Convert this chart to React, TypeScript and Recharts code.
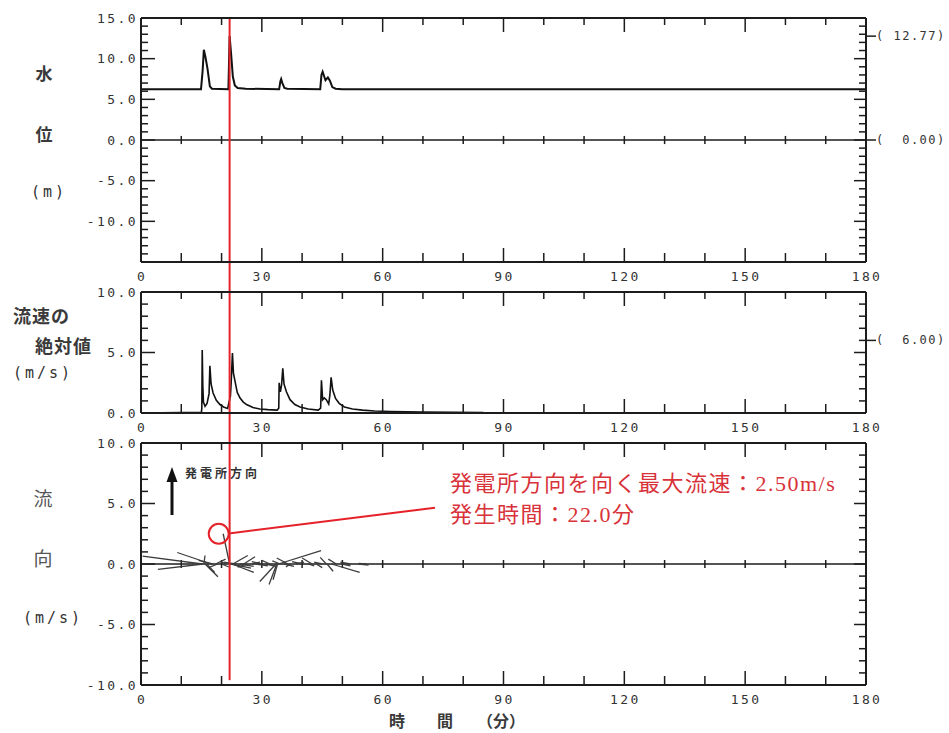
import {ReactNode} from "react";
import {ComposedChart, Line, XAxis, YAxis, ReferenceLine, ReferenceDot} from "recharts";

// time axis (minutes)
const timeTicks = [0, 10, 20, 30, 40, 50, 60, 70, 80, 90, 100, 110, 120, 130, 140, 150, 160, 170, 180];

// water level (m)
const levelTime = [0, 14.9, 15.3, 15.6, 16.0, 16.5, 17.1, 17.6, 21.7, 22.0, 22.4, 22.8, 23.3, 24.0, 26.0, 34.3, 34.6, 34.8, 35.1, 35.6, 36.3, 44.5, 44.8, 45.1, 45.8, 46.4, 46.9, 47.5, 48.3, 50.0, 180];
const levelValue = [6.25, 6.25, 8.5, 11.1, 10.2, 8.8, 6.6, 6.3, 6.25, 12.77, 10.4, 7.8, 6.7, 6.4, 6.3, 6.25, 7.2, 7.5, 7.0, 6.4, 6.3, 6.25, 8.0, 8.4, 7.35, 7.7, 7.3, 6.5, 6.3, 6.25, 6.25];
const levelMarks = [12.77, 0.0];

// absolute current speed (m/s)
const speedTime = [0, 15.0, 15.1, 15.2, 15.35, 15.5, 15.9, 16.4, 16.9, 17.1, 17.4, 17.9, 18.7, 19.6, 20.5, 21.5, 22.2, 22.4, 22.7, 22.95, 23.3, 23.9, 24.6, 25.4, 26.2, 27.8, 29.5, 31.5, 33.8, 34.2, 34.3, 34.6, 34.9, 35.2, 35.5, 36.1, 37.0, 38.2, 39.5, 41.5, 44.0, 44.6, 44.8, 45.1, 45.5, 46.0, 46.6, 46.9, 47.2, 47.6, 48.3, 49.2, 50.5, 52.5, 55.0, 58.0, 62.0, 70.0, 78.0, 85.0];
const speedValue = [0, 0.05, 0.4, 5.2, 2.2, 0.9, 0.55, 0.8, 1.6, 3.9, 2.4, 1.65, 1.05, 0.7, 0.5, 0.38, 1.4, 2.6, 4.95, 3.3, 2.7, 1.7, 1.24, 0.9, 0.7, 0.45, 0.33, 0.28, 0.24, 0.4, 2.5, 1.75, 2.3, 3.7, 2.4, 1.75, 1.1, 0.7, 0.5, 0.33, 0.24, 0.4, 2.7, 1.1, 1.25, 1.1, 0.75, 1.5, 2.95, 1.9, 1.2, 0.8, 0.5, 0.33, 0.24, 0.16, 0.12, 0.08, 0.06, 0.03];
const speedMarks = [6.0];

// current direction sticks: base at (time, 0), tip offset by (u, v)
const stickTime = [15.2, 15.4, 15.6, 15.9, 16.3, 17.4, 17.8, 18.5, 19.0, 20.0, 21.2, 22.0, 22.3, 22.6, 22.8, 23.5, 24.5, 25.5, 26.5, 27.5, 28.5, 30.0, 31.0, 32.0, 33.5, 33.7, 33.9, 34.1, 34.6, 35.5, 36.5, 37.0, 38.5, 40.0, 41.5, 42.5, 43.5, 45.0, 46.0, 46.2, 47.3, 48.5, 50.0, 52.0, 54.0, 56.0];
const stickU = [-14.8, -11.2, 0.3, 3.2, 2.0, -8.4, -3.5, 2.5, -2.2, 1.8, -1.5, -1.6, 5.0, 5.4, 3.7, -3.0, 3.5, 2.8, -2.5, 2.0, 3.0, -2.5, 2.5, -2.0, -4.0, -1.9, -1.1, 10.6, -2.0, 2.5, -2.8, -1.0, 2.0, -2.5, 1.5, -2.5, 1.5, -2.0, -1.5, 1.5, 7.0, -2.0, 2.0, -2.5, 2.5, -2.0];
const stickV = [0.65, -0.45, 0.7, -1.05, -0.7, 0.95, 0.3, 0.4, -0.3, -0.25, 0.2, 2.5, -0.35, -0.7, 0.7, 0.15, -0.2, 0.6, -0.25, 0.15, -0.15, 0.2, -0.2, 0.3, -1.45, -1.7, -1.3, 1.1, 0.25, -0.2, 0.5, -0.25, 0.15, 0.2, -0.15, 0.5, -0.3, 0.15, 0.55, -0.6, -0.7, 0.4, -0.15, 0.15, -0.1, 0.05];

// maximum current toward the power station
const peakTime = 22.0;
const peakSpeed = 2.5;
const circleTime = 19.3;

const AXIS = "#1c1c1c";
const RED = "#e5222a";
const RED_TEXT = "#d8323a";
const MONO = "'DejaVu Sans Mono', monospace";
const JP = "'Noto Sans CJK JP', sans-serif";

const tickFont = {fontFamily: MONO, fontSize: 13, letterSpacing: 2.4, fill: "#333"};

const intRange = (a: number, b: number) => Array.from({length: b - a + 1}, (_, i) => a + i);

const leftTick = (labels: number[]) => (props: any) => {
  const {x, y, payload} = props;
  const v = payload.value;
  const major = v % 5 === 0;
  return (
    <g>
      <line x1={x} x2={x + (major ? 14 : 7)} y1={y} y2={y} stroke={AXIS} strokeWidth={1.5}/>
      {labels.includes(v) && (
        <text x={x - 3} y={y} textAnchor="end" dominantBaseline="central" {...tickFont}>{v.toFixed(1)}</text>
      )}
    </g>
  );
};

const rightTick = (marks: number[]) => (props: any) => {
  const {x, y, payload} = props;
  const v = payload.value;
  return (
    <g>
      {Number.isInteger(v) && (
        <line x1={x - (v % 5 === 0 ? 12 : 7)} x2={x} y1={y} y2={y} stroke={AXIS} strokeWidth={1.5}/>
      )}
      {marks.includes(v) && (
        <g>
          <line x1={x} x2={x + 10} y1={y} y2={y} stroke={AXIS} strokeWidth={1.5}/>
          <text x={x + 10} y={y} dominantBaseline="central" style={{whiteSpace: "pre"}}
                fontFamily={MONO} fontSize={12} letterSpacing={1.5} fill="#333">
            {`(${v.toFixed(2).padStart(6)})`}
          </text>
        </g>
      )}
    </g>
  );
};

const bottomTick = (props: any) => {
  const {x, y, payload} = props;
  const v = payload.value;
  const major = v % 30 === 0;
  return (
    <g>
      <line x1={x} x2={x} y1={y} y2={y - (major ? 14 : 9)} stroke={AXIS} strokeWidth={1.5}/>
      {major && (
        <text x={x + 1} y={y + 14} textAnchor="middle" dominantBaseline="central" {...tickFont}>{v}</text>
      )}
    </g>
  );
};

const topTick = (props: any) => {
  const {x, y, payload} = props;
  const major = payload.value % 30 === 0;
  return <line x1={x} x2={x} y1={y} y2={y + (major ? 14 : 7)} stroke={AXIS} strokeWidth={1.5}/>;
};

interface PanelProps {
  top: number;
  height: number;
  domain: [number, number];
  labels: number[];
  marks: number[];
  data?: any[];
  zeroTick?: number;
  // vertical extent of the peak-time marker, in this panel's units
  markerSpan: [number, number];
  children?: ReactNode;
}

const Panel = ({top, height, domain, labels, marks, data, zeroTick, markerSpan, children}: PanelProps) => {
  const yTicks = intRange(domain[0], domain[1]);
  const rTicks = [...yTicks, ...marks.filter((m) => !Number.isInteger(m))];
  return (
    <div style={{position: "absolute", left: 0, top: top - 10}}>
      <ComposedChart width={949} height={height + 40} data={data}
                     margin={{top: 0, right: 0, bottom: 0, left: 0}}>
        <XAxis xAxisId="b" type="number" dataKey="t" domain={[0, 180]} ticks={timeTicks} interval={0}
               tick={bottomTick} tickLine={false} tickSize={0} tickMargin={0} height={30}
               axisLine={{stroke: AXIS, strokeWidth: 2}} allowDataOverflow/>
        <XAxis xAxisId="t" orientation="top" type="number" dataKey="t" domain={[0, 180]} ticks={timeTicks}
               interval={0} tick={topTick} tickLine={false} tickSize={0} tickMargin={0} height={10}
               axisLine={{stroke: AXIS, strokeWidth: 2}} allowDataOverflow/>
        <YAxis yAxisId="l" type="number" domain={domain} ticks={yTicks} interval={0} tick={leftTick(labels)}
               tickLine={false} tickSize={0} tickMargin={0} width={141}
               axisLine={{stroke: AXIS, strokeWidth: 2}} allowDataOverflow/>
        <YAxis yAxisId="r" orientation="right" type="number" domain={domain} ticks={rTicks} interval={0}
               tick={rightTick(marks)} tickLine={false} tickSize={0} tickMargin={0} width={83}
               axisLine={{stroke: AXIS, strokeWidth: 2}} allowDataOverflow/>
        {zeroTick !== undefined && (
          <ReferenceLine xAxisId="b" yAxisId="l" y={0} stroke={AXIS} strokeWidth={1.5}/>
        )}
        {zeroTick !== undefined && timeTicks.slice(1, -1).map((t) => (
          <ReferenceLine key={`z${t}`} xAxisId="b" yAxisId="l" stroke={AXIS} strokeWidth={1.5}
                         segment={[{x: t, y: -zeroTick}, {x: t, y: zeroTick}]}/>
        ))}
        {children}
        <ReferenceLine xAxisId="b" yAxisId="l" stroke={RED} strokeWidth={2} ifOverflow="visible"
                       segment={[{x: peakTime, y: markerSpan[0]}, {x: peakTime, y: markerSpan[1]}]}/>
      </ComposedChart>
    </div>
  );
};

const levelData = levelTime.map((t, i) => ({t, v: levelValue[i]}));
const speedData = speedTime.map((t, i) => ({t, v: speedValue[i]}));

const App = () => {
  return (
    <div style={{position: "absolute", left: 0, top: 0, width: 949, height: 733, background: "#fff"}}>
      {/* titles and notes */}
      <svg width={949} height={733} style={{position: "absolute", left: 0, top: 0}}>
        <g fontFamily={JP} fill="#3a3a3a" dominantBaseline="central">
          <text x={44} y={72} textAnchor="middle" fontSize={17} fontWeight="bold">水</text>
          <text x={44} y={133} textAnchor="middle" fontSize={17} fontWeight="bold">位</text>
          <text x={13} y={315} fontSize={18} fontWeight="bold" letterSpacing={1}>流速の</text>
          <text x={35} y={345} fontSize={18} fontWeight="bold" letterSpacing={1}>絶対値</text>
          <text x={43} y={497} textAnchor="middle" fontSize={19} fill="#555">流</text>
          <text x={43} y={557} textAnchor="middle" fontSize={19} fill="#555">向</text>
          <text x={389} y={720} fontSize={16} fontWeight="bold">時　　間　　（分）</text>
        </g>
        <g fontFamily={MONO} fontSize={15} letterSpacing={3} fill="#333" dominantBaseline="central">
          <text x={31} y={192}>(m)</text>
          <text x={13} y={373}>(m/s)</text>
          <text x={23} y={618}>(m/s)</text>
        </g>
        {/* direction legend */}
        <line x1={172} x2={172} y1={480} y2={515} stroke="#111" strokeWidth={3}/>
        <polygon points="172,467 166.5,482 177.5,482" fill="#111"/>
        <text x={185} y={472} fontFamily={JP} fontSize={12} fontWeight="bold" letterSpacing={3}
              fill="#333" dominantBaseline="central">発電所方向</text>
        {/* callout */}
        <g fontFamily={`'Liberation Serif', ${JP}`} fontSize={22} letterSpacing={1.5} fill={RED_TEXT}
           dominantBaseline="central">
          <text x={450} y={483}>{`発電所方向を向く最大流速：${peakSpeed.toFixed(2)}m/s`}</text>
          <text x={450} y={514}>{`発生時間：${peakTime.toFixed(1)}分`}</text>
        </g>
      </svg>

      <Panel top={18} height={244} domain={[-15, 15]} labels={[15, 10, 5, 0, -5, -10]}
             marks={levelMarks} data={levelData} zeroTick={0.5} markerSpan={[15, -18.8]}>
        <Line xAxisId="b" yAxisId="l" dataKey="v" type="linear" stroke="#111" strokeWidth={2}
              dot={false} isAnimationActive={false}/>
      </Panel>

      <Panel top={292} height={121} domain={[0, 10]} labels={[10, 5, 0]}
             marks={speedMarks} data={speedData} markerSpan={[10, -2.55]}>
        <Line xAxisId="b" yAxisId="l" dataKey="v" type="linear" stroke="#111" strokeWidth={1.6}
              dot={false} isAnimationActive={false}/>
      </Panel>

      <Panel top={443} height={242} domain={[-10, 10]} labels={[10, 5, 0, -5, -10]}
             marks={[]} data={[{t: 0}, {t: 180}]} zeroTick={0.33} markerSpan={[10, -9.6]}>
        {stickTime.map((t, i) => (
          <ReferenceLine key={`s${i}`} xAxisId="b" yAxisId="l" stroke="#3c3c3c" strokeWidth={1.3}
                         ifOverflow="visible"
                         segment={[{x: t, y: 0}, {x: t + stickU[i], y: stickV[i]}]}/>
        ))}
        <ReferenceDot xAxisId="b" yAxisId="l" x={circleTime} y={peakSpeed} r={10} fill="none"
                      stroke={RED} strokeWidth={2} ifOverflow="visible"/>
        <ReferenceLine xAxisId="b" yAxisId="l" stroke={RED} strokeWidth={2} ifOverflow="visible"
                       segment={[{x: 21.8, y: 2.53}, {x: 73.0, y: 4.65}]}/>
      </Panel>
    </div>
  );
};

export default App;
